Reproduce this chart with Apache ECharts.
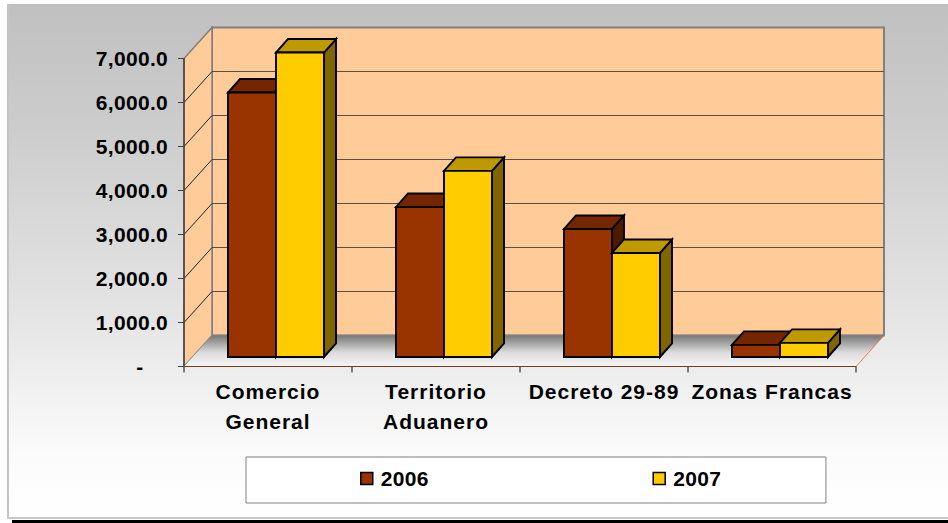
<!DOCTYPE html>
<html>
<head>
<meta charset="utf-8">
<script src="https://cdn.jsdelivr.net/npm/echarts@6/dist/echarts.min.js"></script>
<style>
html,body{margin:0;padding:0;background:#fff;width:948px;height:523px;overflow:hidden}
#frame{position:absolute;left:7px;top:4px;width:941px;height:515px;box-sizing:border-box;border-left:2px solid #c4c4c4;border-bottom:2px solid #c8c8c8;background:linear-gradient(to bottom,#c0c0c0 0%,#cdcdcd 25%,#e4e4e4 60%,#fbfbfb 88%,#ffffff 100%)}
#bar{position:absolute;left:12px;top:520px;width:936px;height:3px;background:#000}
#chart{position:absolute;left:0;top:0;width:948px;height:523px}
svg text{letter-spacing:.3px}
svg text[fill="#000001"]{letter-spacing:1px}
</style>
</head>
<body>
<div id="frame"></div>
<div id="bar"></div>
<div id="chart"></div>
<script>
const categories = ['Comercio\nGeneral', 'Territorio\nAduanero', 'Decreto 29-89', 'Zonas Francas'];
const values2006 = [6010, 3410, 2910, 275];
const values2007 = [6920, 4230, 2365, 320];
const yTickValues = [0, 1000, 2000, 3000, 4000, 5000, 6000, 7000];
const yTickLabels = ['-    ', '1,000.0', '2,000.0', '3,000.0', '4,000.0', '5,000.0', '6,000.0', '7,000.0'];

const WALL_DX = 28, WALL_DY = -31;
const BAR_SHIFT_X = 8, BAR_SHIFT_Y = -9.5;
const BAR_DX = 12, BAR_DY = -13.5;
const BAR_FRACTION = 48 / 168;

function barSeries(name, values, slot, front, top, side) {
  return {
    name, type: 'custom', z: 4, clip: false, encode: { x: 0, y: 1 },
    itemStyle: { color: front },
    data: values.map((v, i) => [i, v]),
    renderItem(params, api) {
      const base = api.coord([api.value(0), 0]);
      const head = api.coord([api.value(0), api.value(1)]);
      const w = api.size([1, 0])[0] * BAR_FRACTION;
      const x0 = base[0] + BAR_SHIFT_X + (slot - 1) * w;
      const x1 = x0 + w;
      const yb = base[1] + BAR_SHIFT_Y;
      const yt = head[1] + BAR_SHIFT_Y;
      const st = { stroke: '#000', lineWidth: 1.9, lineJoin: 'miter' };
      const poly = (pts, fill) => ({ type: 'polygon', shape: { points: pts }, style: Object.assign({ fill }, st) });
      return { type: 'group', children: [
        poly([[x1, yb], [x1 + BAR_DX, yb + BAR_DY], [x1 + BAR_DX, yt + BAR_DY], [x1, yt]], side),
        poly([[x0, yt], [x1, yt], [x1 + BAR_DX, yt + BAR_DY], [x0 + BAR_DX, yt + BAR_DY]], top),
        poly([[x0, yb], [x1, yb], [x1, yt], [x0, yt]], front)
      ] };
    }
  };
}

const wallSeries = {
  type: 'custom', z: 1, clip: false, silent: true, encode: { x: 0, y: 1 },
  data: [[0, 0]],
  renderItem(params, api) {
    const band = api.size([1, 0])[0];
    const left = api.coord([0, 0])[0] - band / 2;
    const right = api.coord([categories.length - 1, 0])[0] + band / 2;
    const y0 = api.coord([0, 0])[1];
    const yMax = api.coord([0, 7000])[1];
    const children = [
      { type: 'polygon', shape: { points: [[left + WALL_DX, yMax + WALL_DY], [right + WALL_DX, yMax + WALL_DY], [right + WALL_DX, y0 + WALL_DY], [left + WALL_DX, y0 + WALL_DY]] },
        style: { fill: '#ffcc99', stroke: '#808080', lineWidth: 2 } },
      { type: 'polygon', shape: { points: [[left, y0], [left + WALL_DX, y0 + WALL_DY], [left + WALL_DX, yMax + WALL_DY], [left, yMax]] },
        style: { fill: '#ffcc99', stroke: '#808080', lineWidth: 1.5 } },
      { type: 'polygon', shape: { points: [[left, y0], [right, y0], [right + WALL_DX, y0 + WALL_DY], [left + WALL_DX, y0 + WALL_DY]] },
        style: { fill: { type: 'linear', x: 0, y: 1, x2: 0, y2: 0, colorStops: [{ offset: 0, color: '#f6f6f6' }, { offset: 0.45, color: '#dcdcdc' }, { offset: 1, color: '#777777' }] } } },
      { type: 'line', shape: { x1: right, y1: y0, x2: right + WALL_DX, y2: y0 + WALL_DY }, style: { stroke: '#f08040', lineWidth: 1 } },
      { type: 'line', shape: { x1: left + WALL_DX, y1: y0 + WALL_DY, x2: right + WALL_DX, y2: y0 + WALL_DY }, style: { stroke: '#808080', lineWidth: 1.5 } }
    ];
    yTickValues.forEach(v => {
      if (v === 0 || v === 7000) {
        return;
      }
      const y = api.coord([0, v])[1];
      children.push({ type: 'line', shape: { x1: left + WALL_DX, y1: y + WALL_DY, x2: right + WALL_DX, y2: y + WALL_DY }, style: { stroke: '#5a5040', lineWidth: 1 } });
      children.push({ type: 'line', shape: { x1: left, y1: y, x2: left + WALL_DX, y2: y + WALL_DY }, style: { stroke: '#222', lineWidth: 1 } });
    });
    return { type: 'group', children };
  }
};

const chart = echarts.init(document.getElementById('chart'), null, { renderer: 'svg', width: 948, height: 523 });
chart.setOption({
  animation: false,
  backgroundColor: 'transparent',
  textStyle: { fontFamily: '"Liberation Sans", Arial, sans-serif' },
  grid: { left: 184, top: 58.5, width: 672, height: 308, containLabel: false },
  xAxis: {
    type: 'category', data: categories,
    axisLine: { lineStyle: { color: '#7a3a10', width: 1 } },
    axisTick: { show: true, length: 6, alignWithLabel: false, lineStyle: { color: '#555', width: 1.5 } },
    axisLabel: { color: '#000001', fontWeight: 'bold', fontSize: 21, margin: 10, lineHeight: 30, interval: 0 },
    z: 3
  },
  yAxis: {
    type: 'value', min: 0, max: 7000, interval: 1000,
    splitLine: { show: false },
    axisLine: { show: true, lineStyle: { color: '#404040', width: 1.5 } },
    axisTick: { show: true, length: 6, lineStyle: { color: '#404040', width: 1 } },
    axisLabel: { color: '#000', fontWeight: 'bold', fontSize: 21, margin: 16, padding: [0, 0, 2, 0],
      formatter: v => yTickLabels[yTickValues.indexOf(v)] },
    z: 3
  },
  legend: {
    left: 246, top: 457,
    padding: [11, 106, 14, 114],
    itemGap: 225, itemWidth: 12, itemHeight: 12,
    selectedMode: false,
    backgroundColor: '#fff', borderColor: '#808080', borderWidth: 1,
    textStyle: { color: '#000', fontWeight: 'bold', fontSize: 21, padding: [0, 0, 2, 3] },
    data: [
      { name: '2006', icon: 'rect', itemStyle: { color: '#993300', borderColor: '#000', borderWidth: 1.5 } },
      { name: '2007', icon: 'rect', itemStyle: { color: '#ffcc00', borderColor: '#000', borderWidth: 1.5 } }
    ]
  },
  series: [
    wallSeries,
    barSeries('2006', values2006, 0, '#993300', '#732600', '#4d1a00'),
    barSeries('2007', values2007, 1, '#ffcc00', '#bf9900', '#806600')
  ]
});
</script>
</body>
</html>
